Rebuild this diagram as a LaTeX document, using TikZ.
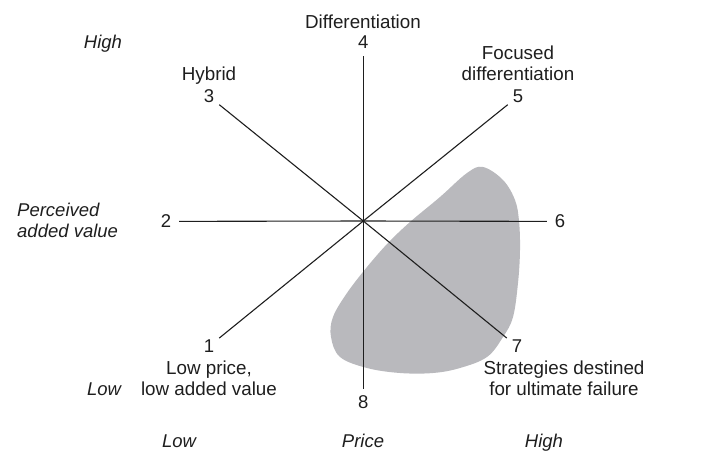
\documentclass[tikz,border=0pt]{standalone}
\usepackage{fontspec}
\setmainfont{Liberation Sans}
\usetikzlibrary{positioning}
\definecolor{Ink}{HTML}{1E1E1E}
\definecolor{Blob}{HTML}{B9B9BD}

\begin{document}
\begin{tikzpicture}[x=1pt,y=-1pt,text=Ink,
num/.style={circle,inner sep=0pt,minimum size=26pt,font=\fontsize{18.5}{21}\selectfont},
lbl/.style={align=center,anchor=base,inner sep=0pt,font=\fontsize{18.8}{21}\selectfont},
axis/.style={anchor=base,inner sep=0pt,font=\fontsize{18.5}{21}\selectfont\itshape},
spoke/.style={line width=1.1pt,draw=Ink}]
\useasboundingbox (0,0) rectangle (712,458);
% shaded failure region
\fill[Blob] plot[smooth cycle,tension=.6] coordinates {(483,167) (503,180) (515,200) (519,221) (520,250) (518,283) (513,317) (503,337) (487,357) (460,368) (433,373) (400,373) (367,368) (340,357) (331,337) (333,317) (347,293) (367,267) (388,243) (410,222) (440,197) (467,173)};
\coordinate (hub) at (363.3,221);
\node[num](n1) at (209,346.4){1};
\node[num](n2) at (166,221.4){2};
\node[num](n3) at (209,96.4){3};
\node[num](n4) at (363.3,42.4){4};
\node[num](n5) at (518,96.4){5};
\node[num](n6) at (560,221.4){6};
\node[num](n7) at (517,346.4){7};
\node[num](n8) at (363.3,402.4){8};
\foreach \k in {1,...,8}{\draw[spoke](hub)--(n\k);}
% strategy names (base = last line)
\node[lbl](hybrid) at (209,80){Hybrid};
\node[lbl](diff) at (363,28){Differentiation};
\node[lbl](focus) at (518,80){Focused\\differentiation};
\node[lbl](lowprice) at (209,395){Low price,\\low added value};
\node[lbl](failure) at (564,395){Strategies destined\\for ultimate failure};
% axes
\node[axis](vhigh) at (103,48){High};
\node[axis](vlow) at (104,395){Low};
\node[axis,anchor=base west,align=left](value) at (17,237){Perceived\\added value};
\node[axis](plow) at (179,447){Low};
\node[axis](price) at (363,447){Price};
\node[axis](phigh) at (544,447){High};
\end{tikzpicture}
\end{document}
